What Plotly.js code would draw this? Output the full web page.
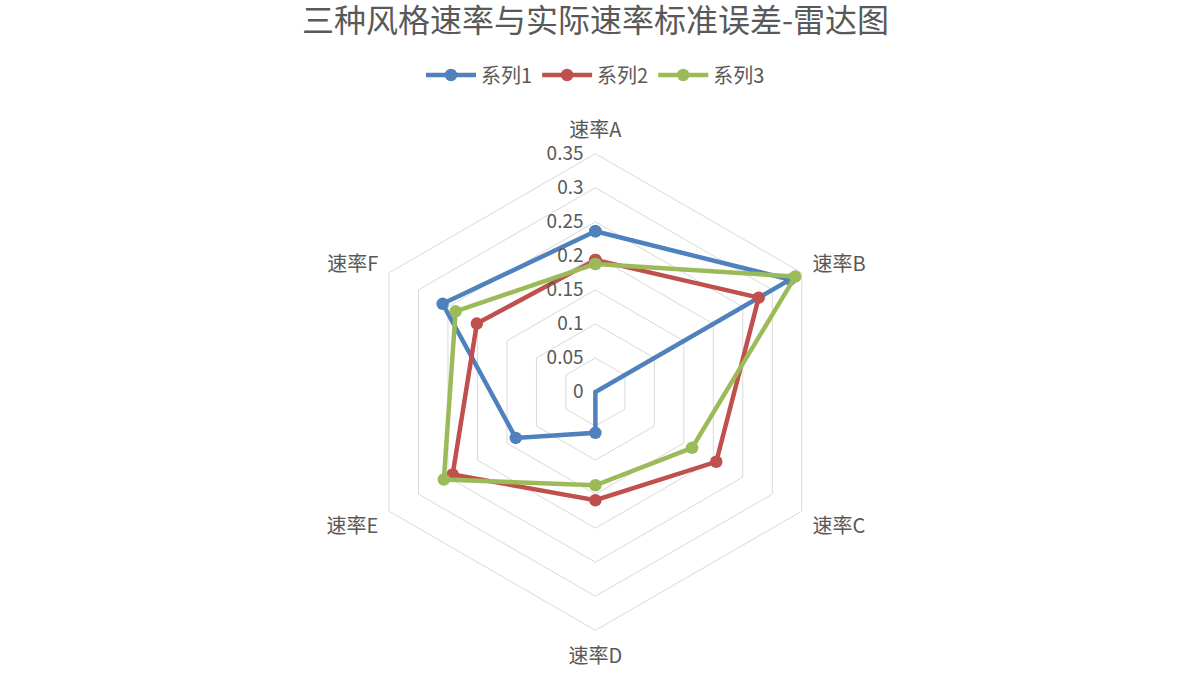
<!DOCTYPE html>
<html>
<head>
<meta charset="utf-8">
<script src="https://cdn.plot.ly/plotly-3.0.1.min.js"></script>
<style>html,body{margin:0;padding:0;background:#fff;}#chart{width:1191px;height:685px;}</style>
</head>
<body>
<div id="chart"></div>
<script>
const categories = ['速率A', '速率B', '速率C', '速率D', '速率E', '速率F'];
const series1 = [0.236, 0.33, 0.0, 0.06, 0.135, 0.259];
const series2 = [0.194, 0.277, 0.205, 0.159, 0.242, 0.201];
const series3 = [0.188, 0.339, 0.164, 0.137, 0.257, 0.237];
const seriesNames = ['系列1', '系列2', '系列3'];
const seriesColors = ['#4F81BD', '#C0504D', '#9BBB59'];
const radialTicks = [0, 0.05, 0.1, 0.15, 0.2, 0.25, 0.3, 0.35];

const FONT = '"Noto Sans CJK SC", "Noto Sans", sans-serif';
const allSeries = [series1, series2, series3];
const traces = allSeries.map((vals, i) => ({
  type: 'scatterpolar',
  mode: 'lines+markers',
  name: seriesNames[i],
  r: vals.concat([vals[0]]),
  theta: categories.concat([categories[0]]),
  line: {color: seriesColors[i], width: 4.5},
  marker: {color: seriesColors[i], size: 12.5},
  hoverinfo: 'r+theta+name'
}));

const layout = {
  width: 1191,
  height: 685,
  margin: {l: 0, r: 0, t: 0, b: 0},
  paper_bgcolor: '#ffffff',
  font: {family: FONT, color: '#595959', size: 18},
  title: {
    text: '三种风格速率与实际速率标准误差-雷达图',
    font: {family: FONT, size: 32, color: '#595959'},
    x: 0.5, xanchor: 'center',
    y: 1 - 21 / 685, yanchor: 'middle'
  },
  showlegend: true,
  legend: {
    orientation: 'h',
    x: 0.5, xanchor: 'center',
    y: 1 - 75 / 685, yanchor: 'middle',
    font: {family: FONT, size: 20, color: '#595959'},
    itemwidth: 50,
    traceorder: 'normal'
  },
  polar: {
    domain: {x: [0.2998, 0.7000], y: [0.0797, 0.7758]},
    bgcolor: 'rgba(0,0,0,0)',
    gridshape: 'linear',
    radialaxis: {
      range: [0, 0.35],
      tickvals: radialTicks,
      ticktext: radialTicks.map(v => String(v) + '\u00a0\u00a0'),
      angle: 90,
      side: 'counterclockwise',
      tickangle: 90,
      showline: false,
      ticks: '',
      gridcolor: '#D9D9D9',
      gridwidth: 1,
      tickfont: {family: FONT, size: 19, color: '#595959'}
    },
    angularaxis: {
      categoryarray: categories,
      categoryorder: 'array',
      rotation: 90,
      direction: 'clockwise',
      showgrid: false,
      showline: true,
      linecolor: '#D9D9D9',
      linewidth: 1,
      ticks: 'outside',
      ticklen: 8,
      tickcolor: 'rgba(0,0,0,0)',
      tickfont: {family: FONT, size: 20, color: '#595959'}
    }
  }
};

Plotly.newPlot('chart', traces, layout, {displayModeBar: false, responsive: false});
</script>
</body>
</html>
